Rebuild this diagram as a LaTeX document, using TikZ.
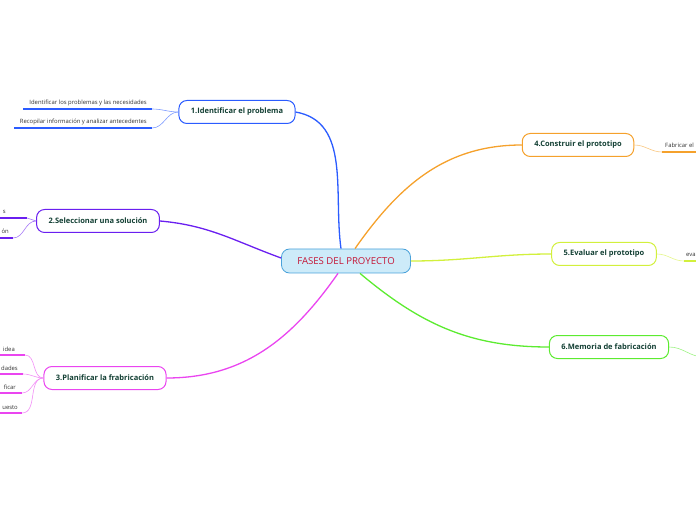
\documentclass[tikz,border=0pt]{standalone}
\usepackage{fontspec}
\setmainfont{Open Sans}
\usetikzlibrary{positioning}

\definecolor{azul}{HTML}{2B5CFF}
\definecolor{morado}{HTML}{6A1FF0}
\definecolor{magenta}{HTML}{EA45F0}
\definecolor{naranja}{HTML}{F5A12C}
\definecolor{limon}{HTML}{D2F03C}
\definecolor{verde}{HTML}{5CEB30}
\definecolor{raizfondo}{HTML}{CDEBF9}
\definecolor{raizborde}{HTML}{4AA2DA}
\definecolor{raiztexto}{HTML}{C41636}
\definecolor{fasetexto}{HTML}{123F33}

\tikzset{
  raiz/.style={draw=raizborde, fill=raizfondo, line width=0.8pt, rounded corners=8pt,
    minimum width=129pt, minimum height=24pt, text=raiztexto,
    font=\fontsize{9.6}{11}\selectfont},
  fase/.style={draw=#1, fill=white, line width=1pt, rounded corners=8pt,
    minimum height=23pt, inner xsep=12pt, text=fasetexto,
    font=\fontsize{7.5}{9}\selectfont\bfseries},
  rama/.style={draw=#1, line width=1.3pt},
  conx/.style={draw=#1!60, line width=0.6pt},
  subr/.style={draw=#1, line width=1.3pt},
  hoja/.style={inner sep=0pt, text=black!80, font=\fontsize{5.9}{7}\selectfont}
}

\begin{document}
\begin{tikzpicture}[x=1pt, y=1pt]
    \useasboundingbox (0,0) rectangle (696,520);
    \clip (0,0) rectangle (696,520);

    % --- NODO CENTRAL ---
    \node[raiz] (raiz) at (346,259) {FASES DEL PROYECTO};

    % --- FASES ---
    \node[fase=azul] (f1) at (237,408) {1.Identificar el problema};
    \node[fase=morado] (f2) at (98,299) {2.Seleccionar una soluci\'on};
    \node[fase=magenta] (f3) at (105,142) {3.Planificar la frabricaci\'on};
    \node[fase=naranja] (f4) at (578,375) {4.Construir el prototipo};
    \node[fase=limon] (f5) at (604,266) {5.Evaluar el prototipo};
    \node[fase=verde] (f6) at (609,173) {6.Memoria de fabricaci\'on};

    % --- RAMAS PRINCIPALES ---
    \draw[rama=azul] ([xshift=-5pt]raiz.north) to[out=98,in=-10] (f1.east);
    \draw[rama=morado] ([yshift=3pt]raiz.west) to[out=160,in=-5] (f2.east);
    \draw[rama=magenta] ([xshift=-8pt]raiz.south) to[out=-125,in=0] (f3.east);
    \draw[rama=naranja] ([xshift=9pt]raiz.north) to[out=55,in=180] (f4.west);
    \draw[rama=limon] (raiz.east) to[out=0,in=180] (f5.west);
    \draw[rama=verde] ([xshift=14pt]raiz.south) to[out=-40,in=180] (f6.west);

    % --- HOJAS: rama 1 ---
    \node[hoja, anchor=base east] (h1a) at (147,415) {Identificar los problemas y las necesidades};
    \node[hoja, anchor=base east] (h1b) at (147,396) {Recopilar informaci\'on y analizar antecedentes};
    \coordinate (u1a) at (152,411);
    \coordinate (u1b) at (152,392);
    \draw[subr=azul] (23,411) -- (u1a);
    \draw[subr=azul] (14,392) -- (u1b);
    \draw[conx=azul] (f1.west) to[out=180,in=0] (u1a);
    \draw[conx=azul] (f1.west) to[out=180,in=0] (u1b);

    % --- HOJAS: rama 2 ---
    \node[hoja, anchor=base east] (h2a) at (6,306) {s};
    \node[hoja, anchor=base east] (h2b) at (9,286) {\'on};
    \coordinate (u2a) at (27,302);
    \coordinate (u2b) at (13,282);
    \draw[subr=morado] (-2,302) -- (u2a);
    \draw[subr=morado] (-2,282) -- (u2b);
    \draw[conx=morado] (f2.west) to[out=180,in=0] (u2a);
    \draw[conx=morado] (f2.west) to[out=180,in=0] (u2b);

    % --- HOJAS: rama 3 ---
    \node[hoja, anchor=base east] (h3a) at (15,169) {idea};
    \node[hoja, anchor=base east] (h3b) at (18,150) {dades};
    \node[hoja, anchor=base east] (h3c) at (16,131) {ficar};
    \node[hoja, anchor=base east] (h3d) at (18,111) {uesto};
    \coordinate (u3a) at (25,165);
    \coordinate (u3b) at (23,146);
    \coordinate (u3c) at (22,127);
    \coordinate (u3d) at (22,107);
    \foreach \h in {a,b,c,d} {
      \draw[subr=magenta] (u3\h) -- ++(-30,0);
      \draw[conx=magenta] (f3.west) to[out=180,in=0] (u3\h);
    }

    % --- HOJAS: ramas 4, 5 y 6 ---
    \node[hoja, anchor=base west] (h4a) at (665,372) {Fabricar el};
    \coordinate (u4a) at (662,368);
    \draw[subr=naranja] (u4a) -- ++(40,0);
    \draw[conx=naranja] (f4.east) to[out=0,in=180] (u4a);

    \node[hoja, anchor=base west] (h5a) at (686,263) {eva};
    \coordinate (u5a) at (684,259);
    \draw[subr=limon] (u5a) -- ++(20,0);
    \draw[conx=limon] (f5.east) to[out=0,in=180] (u5a);

    \coordinate (u6a) at (704,163);
    \draw[conx=verde] (f6.east) to[out=0,in=180] (u6a);
\end{tikzpicture}
\end{document}
